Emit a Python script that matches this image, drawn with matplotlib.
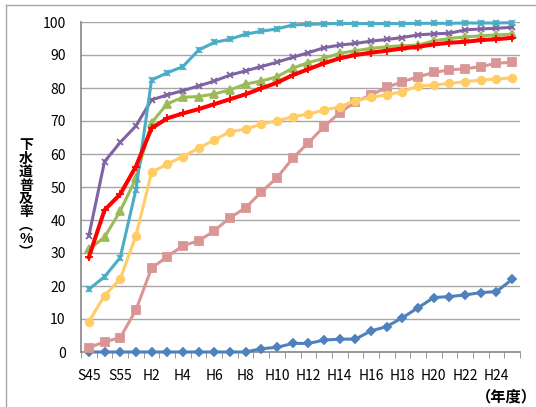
import matplotlib
matplotlib.use("Agg")
import matplotlib.pyplot as plt
from matplotlib.lines import Line2D
import numpy as np

plt.rcParams['font.family'] = ['Noto Sans CJK JP', 'DejaVu Sans']

categories = ['S45', 'S50', 'S55', 'S60', 'H2', 'H3', 'H4', 'H5', 'H6', 'H7', 'H8',
              'H9', 'H10', 'H11', 'H12', 'H13', 'H14', 'H15', 'H16', 'H17', 'H18',
              'H19', 'H20', 'H21', 'H22', 'H23', 'H24', 'H25']

blue = [0, 0, 0, 0, 0, 0, 0, 0, 0, 0, 0, 1.0, 1.4, 2.6, 2.6, 3.6, 3.9, 3.9,
        6.4, 7.7, 10.4, 13.4, 16.5, 16.8, 17.3, 18.0, 18.3, 22.0]
pink = [1.3, 3.1, 4.3, 12.7, 25.4, 28.9, 32.2, 33.7, 36.7, 40.7, 43.7, 48.5,
        52.8, 58.7, 63.4, 68.3, 72.5, 75.8, 77.9, 80.2, 81.9, 83.4, 84.7, 85.5,
        85.8, 86.5, 87.5, 87.8]
yellow = [9.2, 17.1, 22.1, 35.2, 54.4, 57.0, 59.2, 61.8, 64.2, 66.8, 67.5, 69.1,
          70.0, 71.3, 72.1, 73.3, 74.3, 76.2, 77.2, 77.9, 78.9, 80.6, 80.9, 81.4,
          81.9, 82.4, 82.7, 83.1]
green = [31.1, 34.8, 42.7, 52.6, 69.5, 75.2, 77.2, 77.4, 78.2, 79.4, 81.2, 82.1,
         83.4, 86.0, 87.7, 89.0, 90.5, 91.3, 92.0, 92.5, 92.8, 93.0, 94.3, 95.0,
         95.5, 95.8, 96.1, 96.3]
purple = [35.2, 57.7, 63.5, 68.5, 76.4, 77.9, 79.2, 80.6, 82.1, 83.9, 85.2, 86.5,
          87.8, 89.3, 90.7, 92.2, 93.0, 93.5, 94.2, 94.7, 95.3, 96.1, 96.4, 96.6,
          97.6, 97.9, 98.1, 98.4]
teal = [19.0, 22.8, 28.6, 49.1, 82.4, 84.6, 86.5, 91.5, 93.8, 94.8, 96.3, 97.2,
        97.9, 99.1, 99.3, 99.4, 99.6, 99.5, 99.5, 99.5, 99.5, 99.6, 99.6, 99.6,
        99.7, 99.7, 99.7, 99.8]
red = [28.7, 43.0, 47.8, 56.2, 67.8, 70.8, 72.3, 73.6, 75.1, 76.6, 78.1, 79.9,
       81.6, 83.9, 85.7, 87.5, 89.0, 90.0, 90.7, 91.3, 92.0, 92.5, 93.2, 93.7,
       94.0, 94.5, 94.8, 95.2]

yticks = list(range(0, 101, 10))
shown_labels = categories[::2]

fig = plt.figure(figsize=(5.36, 4.07), dpi=100)
ax = fig.add_axes([81/536, 1-352/407, (520-81)/536, (352-22)/407])

x = np.arange(len(categories))
series = [
    (blue, '#4F81BD', ['D'], 4.5, 2.2),
    (pink, '#D99694', ['s'], 5.5, 2.2),
    (yellow, '#FFCC66', ['o'], 5.5, 2.2),
    (green, '#9BBB59', ['^'], 5.5, 2.2),
    (purple, '#8064A2', ['x'], 5.0, 2.2),
    (teal, '#4BACC6', ['x', '|'], 5.0, 2.2),
    (red, '#FF0000', ['+'], 5.5, 2.9),
]
for vals, col, mks, ms, lw in series:
    ax.plot(x, vals, color=col, linewidth=lw, clip_on=False, zorder=3)
    for mk in mks:
        ax.plot(x, vals, linestyle='none', marker=mk, markersize=ms,
                markeredgewidth=1.3, markeredgecolor=col, markerfacecolor=col,
                clip_on=False, zorder=3)

ax.set_xlim(-0.5, len(categories) - 0.5)
ax.set_ylim(0, 100)
ax.set_yticks(yticks)
ax.set_yticklabels([str(v) for v in yticks], fontsize=10)
ax.tick_params(axis='y', length=0, pad=11)

ax.set_xticks(x[::2])
ax.set_xticklabels(shown_labels, fontsize=10)
ax.set_xticks(np.arange(len(categories) + 1) - 0.5, minor=True)
ax.tick_params(axis='x', which='major', length=0, pad=12)
ax.tick_params(axis='x', which='minor', length=4, direction='out', color='#868686')

ax.grid(axis='y', color='#A6A6A6', linewidth=1.0)
ax.set_axisbelow(True)
for s in ['top', 'right']:
    ax.spines[s].set_visible(False)
for s in ['left', 'bottom']:
    ax.spines[s].set_color('#868686')
    ax.spines[s].set_linewidth(1.2)

ylabel = '\n'.join(['下', '水', '道', '普', '及', '率', '︵', '%', '︶'])
fig.text(26/536, 1-199/407, ylabel, ha='center', va='center', fontsize=10,
         fontweight='bold', linespacing=0.95)
fig.text(537/536, 1-396/407, '（年度）', ha='right', va='center', fontsize=11,
         fontweight='bold')

# chart frame (left and top edges)
fig.add_artist(Line2D([6/536, 6/536], [0, 1-5/407], transform=fig.transFigure,
                      color='#A6A6A6', linewidth=1.0))
fig.add_artist(Line2D([6/536, 1], [1-5/407, 1-5/407], transform=fig.transFigure,
                      color='#A6A6A6', linewidth=1.0))

fig.savefig('out.png', dpi=100)
